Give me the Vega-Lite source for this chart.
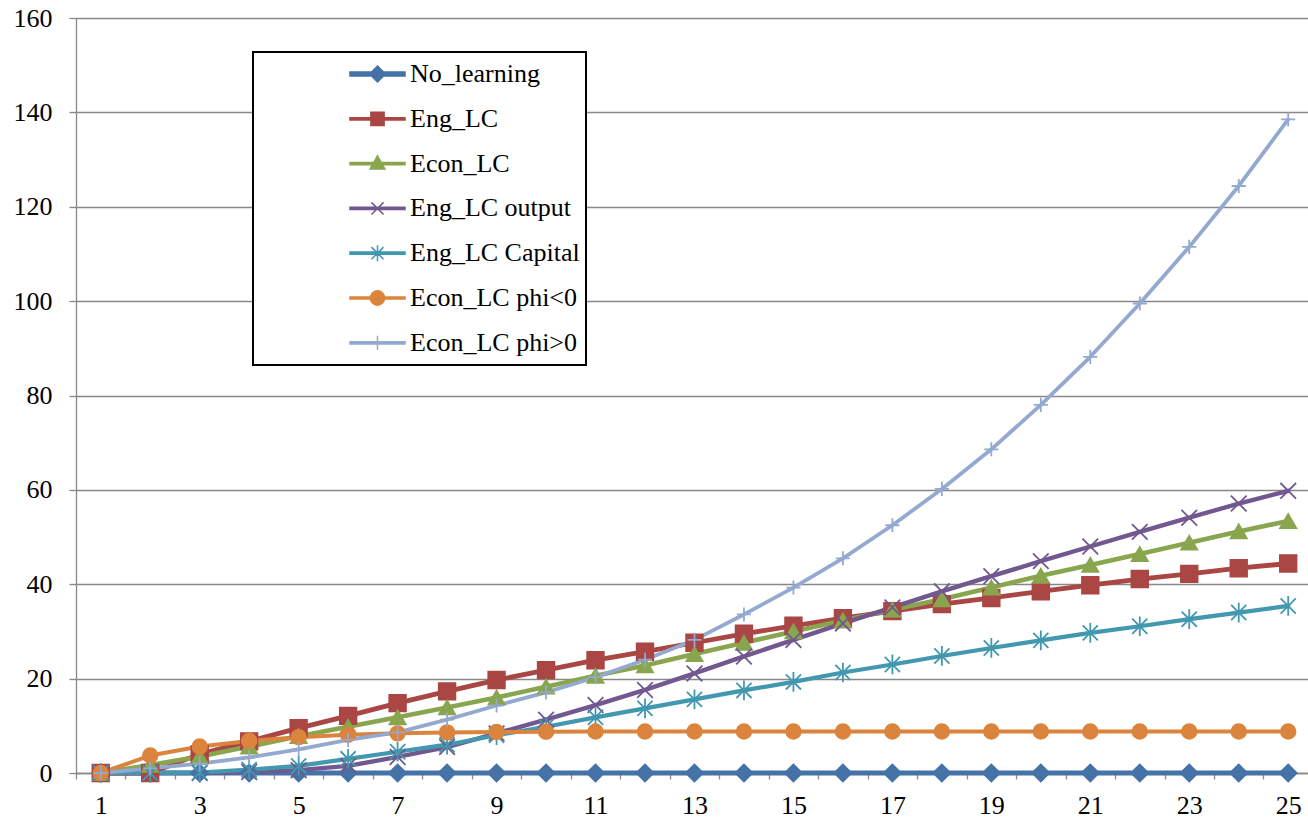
{
  "$schema": "https://vega.github.io/schema/vega-lite/v6.json",
  "autosize": {"type": "none"},
  "width": 1232,
  "height": 755,
  "padding": {"left": 76, "top": 18, "right": 0, "bottom": 47},
  "background": "white",
  "config": {
    "view": {"stroke": null},
    "font": "'Liberation Serif', 'Times New Roman', Tinos, 'Nimbus Roman', 'Noto Serif', 'DejaVu Serif', FreeSerif, serif"
  },
  "datasets": {
    "runs": [
      {"t":1,"series":"No_learning","v":0},{"t":2,"series":"No_learning","v":0},{"t":3,"series":"No_learning","v":0},{"t":4,"series":"No_learning","v":0},{"t":5,"series":"No_learning","v":0},
      {"t":6,"series":"No_learning","v":0},{"t":7,"series":"No_learning","v":0},{"t":8,"series":"No_learning","v":0},{"t":9,"series":"No_learning","v":0},{"t":10,"series":"No_learning","v":0},
      {"t":11,"series":"No_learning","v":0},{"t":12,"series":"No_learning","v":0},{"t":13,"series":"No_learning","v":0},{"t":14,"series":"No_learning","v":0},{"t":15,"series":"No_learning","v":0},
      {"t":16,"series":"No_learning","v":0},{"t":17,"series":"No_learning","v":0},{"t":18,"series":"No_learning","v":0},{"t":19,"series":"No_learning","v":0},{"t":20,"series":"No_learning","v":0},
      {"t":21,"series":"No_learning","v":0},{"t":22,"series":"No_learning","v":0},{"t":23,"series":"No_learning","v":0},{"t":24,"series":"No_learning","v":0},{"t":25,"series":"No_learning","v":0},

      {"t":1,"series":"Eng_LC","v":0},{"t":2,"series":"Eng_LC","v":0},{"t":3,"series":"Eng_LC","v":4.0},{"t":4,"series":"Eng_LC","v":6.7},{"t":5,"series":"Eng_LC","v":9.5},
      {"t":6,"series":"Eng_LC","v":12.1},{"t":7,"series":"Eng_LC","v":14.8},{"t":8,"series":"Eng_LC","v":17.3},{"t":9,"series":"Eng_LC","v":19.7},{"t":10,"series":"Eng_LC","v":21.8},
      {"t":11,"series":"Eng_LC","v":23.9},{"t":12,"series":"Eng_LC","v":25.7},{"t":13,"series":"Eng_LC","v":27.6},{"t":14,"series":"Eng_LC","v":29.5},{"t":15,"series":"Eng_LC","v":31.2},
      {"t":16,"series":"Eng_LC","v":32.8},{"t":17,"series":"Eng_LC","v":34.3},{"t":18,"series":"Eng_LC","v":35.8},{"t":19,"series":"Eng_LC","v":37.1},{"t":20,"series":"Eng_LC","v":38.5},
      {"t":21,"series":"Eng_LC","v":39.8},{"t":22,"series":"Eng_LC","v":41.1},{"t":23,"series":"Eng_LC","v":42.2},{"t":24,"series":"Eng_LC","v":43.4},{"t":25,"series":"Eng_LC","v":44.4},

      {"t":1,"series":"Econ_LC","v":0},{"t":2,"series":"Econ_LC","v":1.7},{"t":3,"series":"Econ_LC","v":3.5},{"t":4,"series":"Econ_LC","v":5.6},{"t":5,"series":"Econ_LC","v":7.8},
      {"t":6,"series":"Econ_LC","v":9.8},{"t":7,"series":"Econ_LC","v":11.8},{"t":8,"series":"Econ_LC","v":13.9},{"t":9,"series":"Econ_LC","v":16.0},{"t":10,"series":"Econ_LC","v":18.3},
      {"t":11,"series":"Econ_LC","v":20.6},{"t":12,"series":"Econ_LC","v":22.8},{"t":13,"series":"Econ_LC","v":25.2},{"t":14,"series":"Econ_LC","v":27.6},{"t":15,"series":"Econ_LC","v":30.0},
      {"t":16,"series":"Econ_LC","v":32.3},{"t":17,"series":"Econ_LC","v":34.6},{"t":18,"series":"Econ_LC","v":36.8},{"t":19,"series":"Econ_LC","v":39.3},{"t":20,"series":"Econ_LC","v":41.8},
      {"t":21,"series":"Econ_LC","v":44.1},{"t":22,"series":"Econ_LC","v":46.4},{"t":23,"series":"Econ_LC","v":48.8},{"t":24,"series":"Econ_LC","v":51.2},{"t":25,"series":"Econ_LC","v":53.4},

      {"t":1,"series":"Eng_LC output","v":0},{"t":2,"series":"Eng_LC output","v":0},{"t":3,"series":"Eng_LC output","v":0},{"t":4,"series":"Eng_LC output","v":0.2},{"t":5,"series":"Eng_LC output","v":0.6},
      {"t":6,"series":"Eng_LC output","v":1.5},{"t":7,"series":"Eng_LC output","v":3.4},{"t":8,"series":"Eng_LC output","v":5.5},{"t":9,"series":"Eng_LC output","v":8.4},{"t":10,"series":"Eng_LC output","v":11.3},
      {"t":11,"series":"Eng_LC output","v":14.4},{"t":12,"series":"Eng_LC output","v":17.6},{"t":13,"series":"Eng_LC output","v":21.1},{"t":14,"series":"Eng_LC output","v":24.7},{"t":15,"series":"Eng_LC output","v":28.2},
      {"t":16,"series":"Eng_LC output","v":31.7},{"t":17,"series":"Eng_LC output","v":35.1},{"t":18,"series":"Eng_LC output","v":38.5},{"t":19,"series":"Eng_LC output","v":41.7},{"t":20,"series":"Eng_LC output","v":44.9},
      {"t":21,"series":"Eng_LC output","v":48.0},{"t":22,"series":"Eng_LC output","v":51.1},{"t":23,"series":"Eng_LC output","v":54.1},{"t":24,"series":"Eng_LC output","v":57.1},{"t":25,"series":"Eng_LC output","v":59.8},

      {"t":1,"series":"Eng_LC Capital","v":0},{"t":2,"series":"Eng_LC Capital","v":0},{"t":3,"series":"Eng_LC Capital","v":0.1},{"t":4,"series":"Eng_LC Capital","v":0.7},{"t":5,"series":"Eng_LC Capital","v":1.5},
      {"t":6,"series":"Eng_LC Capital","v":3.0},{"t":7,"series":"Eng_LC Capital","v":4.5},{"t":8,"series":"Eng_LC Capital","v":6.0},{"t":9,"series":"Eng_LC Capital","v":8.0},{"t":10,"series":"Eng_LC Capital","v":9.8},
      {"t":11,"series":"Eng_LC Capital","v":11.8},{"t":12,"series":"Eng_LC Capital","v":13.7},{"t":13,"series":"Eng_LC Capital","v":15.6},{"t":14,"series":"Eng_LC Capital","v":17.5},{"t":15,"series":"Eng_LC Capital","v":19.3},
      {"t":16,"series":"Eng_LC Capital","v":21.3},{"t":17,"series":"Eng_LC Capital","v":23.0},{"t":18,"series":"Eng_LC Capital","v":24.8},{"t":19,"series":"Eng_LC Capital","v":26.5},{"t":20,"series":"Eng_LC Capital","v":28.1},
      {"t":21,"series":"Eng_LC Capital","v":29.7},{"t":22,"series":"Eng_LC Capital","v":31.1},{"t":23,"series":"Eng_LC Capital","v":32.6},{"t":24,"series":"Eng_LC Capital","v":34.0},{"t":25,"series":"Eng_LC Capital","v":35.4},

      {"t":1,"series":"Econ_LC phi<0","v":0},{"t":2,"series":"Econ_LC phi<0","v":3.7},{"t":3,"series":"Econ_LC phi<0","v":5.6},{"t":4,"series":"Econ_LC phi<0","v":6.8},{"t":5,"series":"Econ_LC phi<0","v":7.6},
      {"t":6,"series":"Econ_LC phi<0","v":8.1},{"t":7,"series":"Econ_LC phi<0","v":8.4},{"t":8,"series":"Econ_LC phi<0","v":8.6},{"t":9,"series":"Econ_LC phi<0","v":8.7},{"t":10,"series":"Econ_LC phi<0","v":8.75},
      {"t":11,"series":"Econ_LC phi<0","v":8.8},{"t":12,"series":"Econ_LC phi<0","v":8.8},{"t":13,"series":"Econ_LC phi<0","v":8.8},{"t":14,"series":"Econ_LC phi<0","v":8.8},{"t":15,"series":"Econ_LC phi<0","v":8.8},
      {"t":16,"series":"Econ_LC phi<0","v":8.8},{"t":17,"series":"Econ_LC phi<0","v":8.8},{"t":18,"series":"Econ_LC phi<0","v":8.8},{"t":19,"series":"Econ_LC phi<0","v":8.8},{"t":20,"series":"Econ_LC phi<0","v":8.8},
      {"t":21,"series":"Econ_LC phi<0","v":8.8},{"t":22,"series":"Econ_LC phi<0","v":8.8},{"t":23,"series":"Econ_LC phi<0","v":8.8},{"t":24,"series":"Econ_LC phi<0","v":8.8},{"t":25,"series":"Econ_LC phi<0","v":8.8},

      {"t":1,"series":"Econ_LC phi>0","v":0},{"t":2,"series":"Econ_LC phi>0","v":1.0},{"t":3,"series":"Econ_LC phi>0","v":2.0},{"t":4,"series":"Econ_LC phi>0","v":3.3},{"t":5,"series":"Econ_LC phi>0","v":5.0},
      {"t":6,"series":"Econ_LC phi>0","v":7.0},{"t":7,"series":"Econ_LC phi>0","v":8.6},{"t":8,"series":"Econ_LC phi>0","v":11.3},{"t":9,"series":"Econ_LC phi>0","v":14.3},{"t":10,"series":"Econ_LC phi>0","v":17.1},
      {"t":11,"series":"Econ_LC phi>0","v":20.3},{"t":12,"series":"Econ_LC phi>0","v":24.0},{"t":13,"series":"Econ_LC phi>0","v":28.2},{"t":14,"series":"Econ_LC phi>0","v":33.6},{"t":15,"series":"Econ_LC phi>0","v":39.3},
      {"t":16,"series":"Econ_LC phi>0","v":45.5},{"t":17,"series":"Econ_LC phi>0","v":52.5},{"t":18,"series":"Econ_LC phi>0","v":60.2},{"t":19,"series":"Econ_LC phi>0","v":68.6},{"t":20,"series":"Econ_LC phi>0","v":78.0},
      {"t":21,"series":"Econ_LC phi>0","v":88.2},{"t":22,"series":"Econ_LC phi>0","v":99.5},{"t":23,"series":"Econ_LC phi>0","v":111.5},{"t":24,"series":"Econ_LC phi>0","v":124.4},{"t":25,"series":"Econ_LC phi>0","v":138.5}
    ]
  },
  "data": {"name": "runs"},
  "resolve": {"scale": {"fill": "independent", "stroke": "independent", "shape": "independent", "size": "independent"}},
  "layer": [
    {
      "mark": {"type": "line", "strokeCap": "round", "strokeJoin": "round"},
      "encoding": {
        "x": {
          "field": "t", "type": "quantitative",
          "scale": {"domain": [0.5, 25.4], "nice": false, "zero": false},
          "axis": {
            "title": null,
            "values": [0.5,1.5,2.5,3.5,4.5,5.5,6.5,7.5,8.5,9.5,10.5,11.5,12.5,13.5,14.5,15.5,16.5,17.5,18.5,19.5,20.5,21.5,22.5,23.5,24.5],
            "labelExpr": "(datum.value + 0.5) % 2 == 1 ? format(datum.value + 0.5, 'd') : ''",
            "labelOffset": 24.74,
            "labelFlush": false,
            "labelOverlap": false,
            "labelBound": false,
            "labelAlign": "center",
            "labelFontSize": 26,
            "labelColor": "#000000",
            "labelPadding": 13,
            "grid": false,
            "domainColor": "#888888",
            "domainWidth": 1.3,
            "tickColor": "#888888",
            "tickWidth": 1.3,
            "tickSize": 6
          }
        },
        "y": {
          "field": "v", "type": "quantitative",
          "scale": {"domain": [0, 160], "nice": false},
          "axis": {
            "title": null,
            "values": [0,20,40,60,80,100,120,140,160],
            "labelFontSize": 26,
            "labelColor": "#000000",
            "labelPadding": 17,
            "grid": true,
            "gridColor": "#888888",
            "gridWidth": 1.3,
            "domainColor": "#888888",
            "domainWidth": 1.3,
            "tickColor": "#888888",
            "tickWidth": 1.3,
            "tickSize": 7
          }
        },
        "color": {
          "field": "series", "type": "nominal",
          "scale": {
            "domain": ["No_learning","Eng_LC","Econ_LC","Eng_LC output","Eng_LC Capital","Econ_LC phi<0","Econ_LC phi>0"],
            "range": ["#4572A7","#AA4643","#89A54E","#71588F","#4198AF","#DB843D","#93A9CF"]
          },
          "legend": null
        },
        "strokeWidth": {
          "field": "series", "type": "nominal",
          "scale": {
            "domain": ["No_learning","Eng_LC","Econ_LC","Eng_LC output","Eng_LC Capital","Econ_LC phi<0","Econ_LC phi>0"],
            "range": [5, 3.8, 3.8, 3.8, 3.8, 3.8, 3.8]
          },
          "legend": null
        },
        "order": {"field": "t", "type": "quantitative"}
      }
    },
    {
      "mark": {"type": "point", "filled": true, "opacity": 1, "strokeWidth": 1.8},
      "encoding": {
        "x": {"field": "t", "type": "quantitative"},
        "y": {"field": "v", "type": "quantitative"},
        "fill": {
          "field": "series", "type": "nominal",
          "scale": {
            "domain": ["No_learning","Eng_LC","Econ_LC","Eng_LC output","Eng_LC Capital","Econ_LC phi<0","Econ_LC phi>0"],
            "range": ["#4572A7","#AA4643","#89A54E","#71588F","#4198AF","#DB843D","#93A9CF"]
          },
          "legend": null
        },
        "stroke": {
          "field": "series", "type": "nominal",
          "scale": {
            "domain": ["No_learning","Eng_LC","Econ_LC","Eng_LC output","Eng_LC Capital","Econ_LC phi<0","Econ_LC phi>0"],
            "range": ["#4572A7","#AA4643","#89A54E","#71588F","#4198AF","#DB843D","#93A9CF"]
          },
          "legend": null
        },
        "size": {
          "field": "series", "type": "nominal",
          "scale": {
            "domain": ["No_learning","Eng_LC","Econ_LC","Eng_LC output","Eng_LC Capital","Econ_LC phi<0","Econ_LC phi>0"],
            "range": [290, 200, 250, 190, 190, 240, 160]
          },
          "legend": null
        },
        "shape": {
          "field": "series", "type": "nominal",
          "scale": {
            "domain": ["No_learning","Eng_LC","Econ_LC","Eng_LC output","Eng_LC Capital","Econ_LC phi<0","Econ_LC phi>0"],
            "range": ["diamond", "square", "triangle-up", "M-1,-1L1,1M-1,1L1,-1", "M-1,-1L1,1M-1,1L1,-1M0,-1.3V1.3", "circle", "M-1,0H1M0,-1V1"]
          },
          "legend": null
        }
      }
    },
    {
      "transform": [{"filter": "datum.t < 0"}],
      "mark": {"type": "point", "filled": true, "opacity": 1},
      "encoding": {
        "x": {"field": "t", "type": "quantitative"},
        "y": {"field": "v", "type": "quantitative"},
        "fill": {
          "field": "series", "type": "nominal",
          "scale": {
            "domain": ["No_learning","Eng_LC","Econ_LC","Eng_LC output","Eng_LC Capital","Econ_LC phi<0","Econ_LC phi>0"],
            "range": ["#4572A7","#AA4643","#89A54E","#71588F","#4198AF","#DB843D","#93A9CF"]
          },
          "legend": {
            "title": null,
            "orient": "none",
            "legendX": 177,
            "legendY": 34,
            "fillColor": "#ffffff",
            "strokeColor": "#000000",
            "padding": 6,
            "clipHeight": 32,
            "rowPadding": 12.8,
            "symbolOffset": 90,
            "symbolSize": 3025,
            "symbolStrokeWidth": 1.5,
            "symbolOpacity": 1,
            "labelFontSize": 26,
            "labelColor": "#000000",
            "labelOffset": 4,
            "labelLimit": 400,
            "encode": {
              "legend": {"update": {"strokeWidth": {"value": 2}}},
              "symbols": {"update": {"opacity": {"value": 1}, "fillOpacity": {"value": 1}, "strokeOpacity": {"value": 1}}}
            }
          }
        },
        "stroke": {
          "field": "series", "type": "nominal",
          "scale": {
            "domain": ["No_learning","Eng_LC","Econ_LC","Eng_LC output","Eng_LC Capital","Econ_LC phi<0","Econ_LC phi>0"],
            "range": ["#4572A7","#AA4643","#89A54E","#71588F","#4198AF","#DB843D","#93A9CF"]
          },
          "legend": {"title": null}
        },
        "shape": {
          "field": "series", "type": "nominal",
          "scale": {
            "domain": ["No_learning","Eng_LC","Econ_LC","Eng_LC output","Eng_LC Capital","Econ_LC phi<0","Econ_LC phi>0"],
            "range": [
              "M-1,-0.07H1V0.07H-1ZM-0.29,0L0,-0.29L0.29,0L0,0.29Z",
              "M-1,-0.04H1V0.04H-1ZM-0.24,-0.24H0.24V0.24H-0.24Z",
              "M-1,-0.04H1V0.04H-1ZM0,-0.28L0.27,0.2L-0.27,0.2Z",
              "M-1,-0.04H1V0.04H-1ZM-0.22,-0.22L0.22,0.22M-0.22,0.22L0.22,-0.22",
              "M-1,-0.04H1V0.04H-1ZM-0.22,-0.22L0.22,0.22M-0.22,0.22L0.22,-0.22M0,-0.29V0.29",
              "M-1,-0.04H1V0.04H-1ZM-0.26,0A0.26,0.26 0 1,1 0.26,0A0.26,0.26 0 1,1 -0.26,0Z",
              "M-1,-0.04H1V0.04H-1ZM0,-0.26V0.26"
            ]
          },
          "legend": {"title": null}
        }
      }
    }
  ]
}
